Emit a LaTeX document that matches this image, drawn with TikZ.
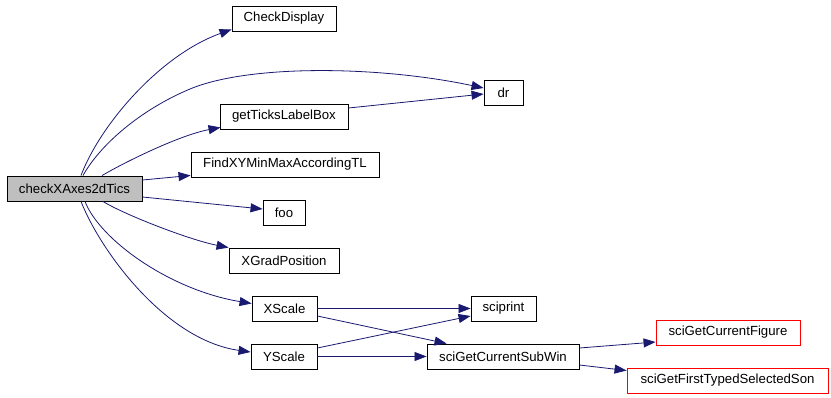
\documentclass[tikz,border=0pt]{standalone}
\usepackage{fontspec}
\setmainfont{Liberation Sans}
\usetikzlibrary{arrows.meta,calc}
\definecolor{edgecol}{HTML}{191970}
\definecolor{boxgray}{HTML}{BFBFBF}
\tikzset{
  fn/.style={draw=black, line width=0.9pt, fill=white, inner sep=0pt, minimum height=25pt, font=\fontsize{13.2pt}{15pt}\selectfont},
  mainfn/.style={fn, fill=boxgray},
  extfn/.style={fn, draw=red},
  call/.style={draw=edgecol, line width=0.8pt, -{Triangle[length=12pt,width=9pt]}}
}
\begin{document}
\begin{tikzpicture}[x=1pt,y=-1pt]
\useasboundingbox (0,0) rectangle (831,397);
\node[mainfn, minimum width=135pt] (main) at (74.5,188.5) {checkXAxes2dTics};
\node[fn, minimum width=104pt] (CheckDisplay) at (284,18.5) {CheckDisplay};
\node[fn, minimum width=39pt] (dr) at (503.5,92.5) {dr};
\node[fn, minimum width=128pt] (getTicks) at (284,116.5) {getTicksLabelBox};
\node[fn, minimum width=188pt] (FindXY) at (285,164.5) {FindXYMinMaxAccordingTL};
\node[fn, minimum width=42pt] (foo) at (284,212.5) {foo};
\node[fn, minimum width=110pt] (XGrad) at (284,260.5) {XGradPosition};
\node[fn, minimum width=65pt] (XScale) at (284.5,308.5) {XScale};
\node[fn, minimum width=66pt] (YScale) at (284,356.5) {YScale};
\node[fn, minimum width=65pt] (sciprint) at (503.5,308.5) {sciprint};
\node[fn, minimum width=152pt] (SubWin) at (503,356.5) {sciGetCurrentSubWin};
\node[extfn, minimum width=144pt] (Figure) at (728,332.5) {sciGetCurrentFigure};
\node[extfn, minimum width=201pt] (Son) at (727.5,380.5) {sciGetFirstTypedSelectedSon};

\draw[call] ($(main.north)+(6.5,0)$) .. controls (100,125) and (160,55) .. ($(CheckDisplay.south west)+(0,-2)$);
\draw[call] ($(main.north)+(8.5,0)$) .. controls (100,145) and (140,110) .. (190,89) .. controls (250,64) and (380,66) .. ($(dr.west)+(0,-4.5)$);
\draw[call] ($(main.north)+(27.5,0)$) .. controls (125,162) and (180,135) .. ($(getTicks.south west)+(1,-2)$);
\draw[call] ($(main.east)+(0,-8.5)$) -- ($(FindXY.south west)+(0,-2)$);
\draw[call] ($(main.east)+(0,8.5)$) -- ($(foo.west)+(0,-3.5)$);
\draw[call] ($(main.south)+(28.5,0)$) .. controls (125,215) and (190,240) .. (XGrad.north west);
\draw[call] ($(main.south)+(10.5,0)$) .. controls (100,240) and (170,290) .. ($(XScale.west)+(0,-5)$);
\draw[call] ($(main.south)+(6.5,0)$) .. controls (100,250) and (165,340) .. ($(YScale.west)+(0,-4.5)$);
\draw[call] ($(getTicks.east)+(0,-8.5)$) -- ($(dr.west)+(0,1.5)$);
\draw[call] (XScale.east) -- (sciprint.west);
\draw[call] ($(XScale.east)+(0,7.5)$) -- ($(SubWin.north west)+(20,0)$);
\draw[call] ($(YScale.east)+(0,-8.5)$) -- ($(sciprint.west)+(0,7.5)$);
\draw[call] (YScale.east) -- (SubWin.west);
\draw[call] ($(SubWin.east)+(0,-8.5)$) -- ($(Figure.west)+(0,9.5)$);
\draw[call] ($(SubWin.east)+(0,8.5)$) -- ($(Son.west)+(0,-10)$);
\end{tikzpicture}
\end{document}
